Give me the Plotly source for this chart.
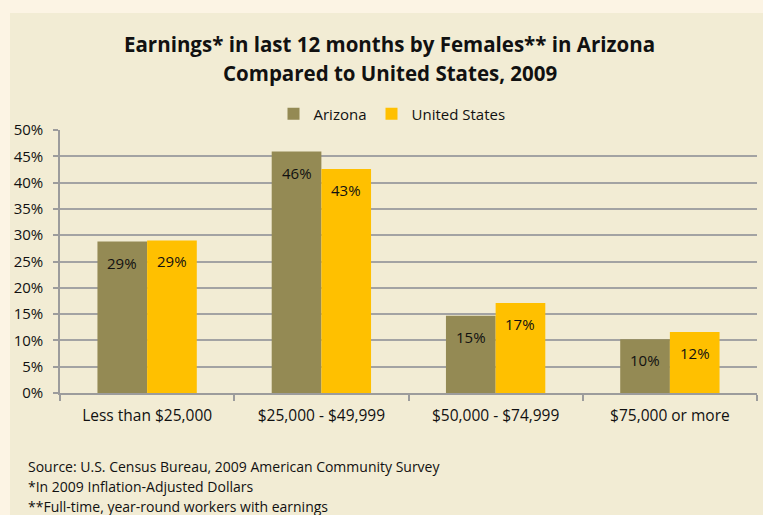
import plotly.graph_objects as go

categories = ["Less than $25,000", "$25,000 - $49,999", "$50,000 - $74,999", "$75,000 or more"]
arizona = [28.8, 45.9, 14.7, 10.2]
united_states = [29.0, 42.6, 17.1, 11.6]
series_names = ["Arizona", "United States"]
series_colors = ["#948A54", "#FFC000"]
y_ticks = [0, 5, 10, 15, 20, 25, 30, 35, 40, 45, 50]
title_lines = ["Earnings* in last 12 months by Females** in Arizona",
               "Compared to United States, 2009"]
footnotes = ["Source: U.S. Census Bureau, 2009 American Community Survey",
             "*In 2009 Inflation-Adjusted Dollars",
             "**Full-time, year-round workers with earnings"]

W, H = 763, 515
L, R, T, B = 60, 6, 130, 122
pw, ph = W - L - R, H - T - B
FONT = "Open Sans, Noto Sans, sans-serif"

def px_x(x):
    return (x - L) / pw

def px_y(y):
    return (H - B - y) / ph

fig = go.Figure()
for name, vals, col in zip(series_names, [arizona, united_states], series_colors):
    fig.add_trace(go.Bar(x=categories, y=vals, name=name, marker=dict(color=col, line=dict(width=0))))

annotations = []
bar_px = 49.5
for si, vals in enumerate([arizona, united_states]):
    shift = -bar_px / 2 if si == 0 else bar_px / 2
    for c, v in zip(categories, vals):
        annotations.append(dict(x=c, y=v, xref="x", yref="y", text=f"{round(v):.0f}%",
                                showarrow=False, xshift=shift, yshift=-21,
                                font=dict(family=FONT, size=15, color="#111111")))

for line, ypx in zip(title_lines, [44, 73]):
    annotations.append(dict(x=px_x(389.5), y=px_y(ypx), xref="paper", yref="paper",
                            text=f"<b>{line}</b>", showarrow=False, xanchor="center", yanchor="middle",
                            font=dict(family=FONT, size=20.5, color="#111111")))

for line, ypx in zip(footnotes, [466, 486, 506]):
    annotations.append(dict(x=px_x(26), y=px_y(ypx), xref="paper", yref="paper",
                            text=line, showarrow=False, xanchor="left", yanchor="middle",
                            font=dict(family=FONT, size=14, color="#111111")))

fig.update_layout(
    width=W, height=H,
    margin=dict(l=L, r=R, t=T, b=B, pad=0),
    paper_bgcolor="#FCF4E4",
    plot_bgcolor="rgba(0,0,0,0)",
    barmode="group",
    bargap=0.43,
    bargroupgap=0,
    font=dict(family=FONT, size=15, color="#111111"),
    showlegend=True,
    legend=dict(orientation="h", x=px_x(392), y=px_y(114), xanchor="center", yanchor="middle",
                font=dict(family=FONT, size=15, color="#111111"), bgcolor="rgba(0,0,0,0)",
                itemwidth=30, tracegroupgap=0),
    annotations=annotations,
    shapes=[dict(type="rect", xref="paper", yref="paper", x0=px_x(10), x1=px_x(W + 5),
                 y0=px_y(H + 5), y1=px_y(13), fillcolor="#F2ECD4", line=dict(width=0), layer="below")],
    xaxis=dict(showgrid=False, showline=True, linecolor="#9C9C9C", linewidth=1.5,
               ticks="outside", tickson="boundaries", ticklen=6, tickcolor="#9C9C9C", tickwidth=1.5,
               ticklabelstandoff=8,
               tickfont=dict(family=FONT, size=15.5, color="#111111")),
    yaxis=dict(range=[0, 50], tickvals=y_ticks, ticktext=[f"{t}%" for t in y_ticks],
               showgrid=True, gridcolor="#A3A3A3", gridwidth=1.5, zeroline=False,
               showline=True, linecolor="#9C9C9C", linewidth=1.5,
               ticks="outside", ticklen=5, tickcolor="#9C9C9C", tickwidth=1.5,
               ticklabelstandoff=7,
               tickfont=dict(family=FONT, size=15, color="#111111")),
)

fig.write_html("out.html", config={"displayModeBar": False},
               post_script="document.body.style.margin='0';document.body.style.overflow='hidden';")
